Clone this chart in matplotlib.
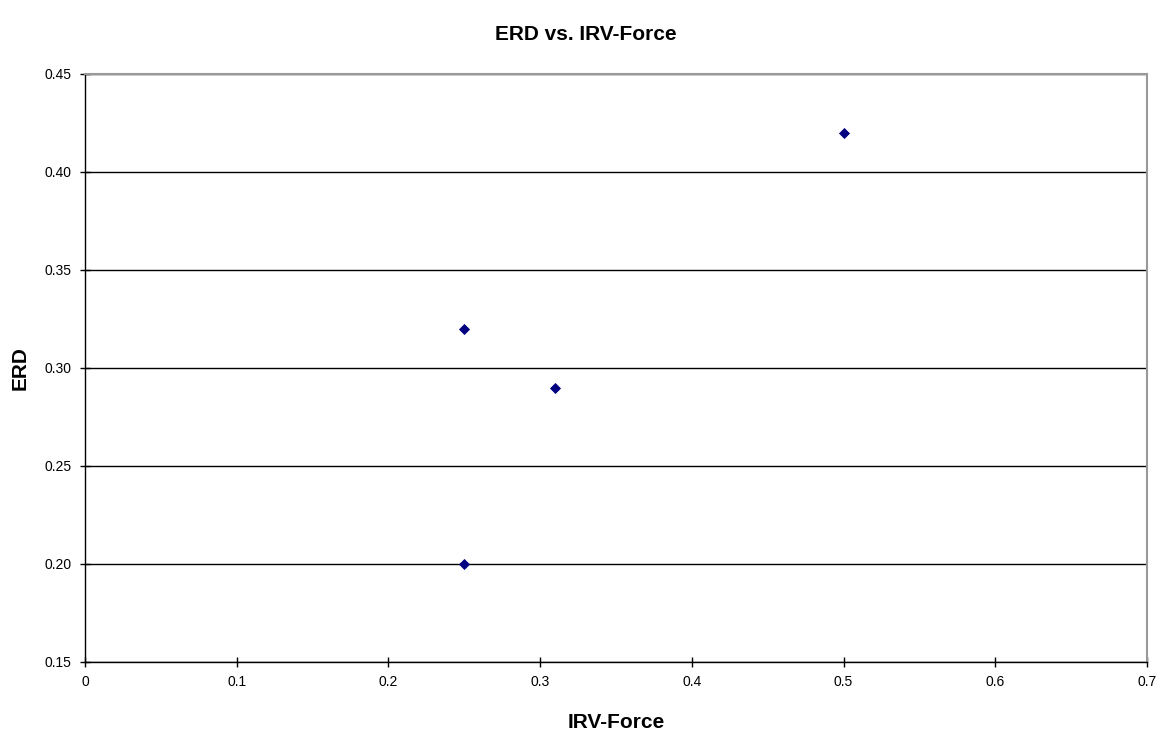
import matplotlib
matplotlib.use('Agg')
import matplotlib.pyplot as plt
from matplotlib.ticker import FormatStrFormatter, MultipleLocator

# Data
irv_force = [0.25, 0.31, 0.5, 0.25]
erd = [0.32, 0.29, 0.42, 0.20]

plt.rcParams['font.family'] = ['Liberation Sans', 'DejaVu Sans']

fig = plt.figure(figsize=(11.72, 7.4), dpi=100)
ax = fig.add_axes([85 / 1172, 1 - 662 / 740, (1147 - 85) / 1172, (662 - 74) / 740])

ax.scatter(irv_force, erd, marker='D', s=32, color='#000080', zorder=3, linewidths=0)

ax.set_xlim(0, 0.7)
ax.set_ylim(0.15, 0.45)
ax.yaxis.set_major_locator(MultipleLocator(0.05))
ax.yaxis.set_major_formatter(FormatStrFormatter('%.2f'))
ax.set_xticks([0, 0.1, 0.2, 0.3, 0.4, 0.5, 0.6, 0.7])
ax.set_xticklabels(['0', '0.1', '0.2', '0.3', '0.4', '0.5', '0.6', '0.7'])

ax.grid(axis='y', color='black', linewidth=1)
ax.set_axisbelow(True)

for side in ['top', 'right']:
    ax.spines[side].set_color('#999999')
    ax.spines[side].set_linewidth(1.5)
for side in ['left', 'bottom']:
    ax.spines[side].set_color('black')
    ax.spines[side].set_linewidth(1)

ax.tick_params(direction='inout', length=7, width=1, labelsize=10, pad=6)

ax.set_xlabel('IRV-Force', fontsize=15, fontweight='bold', labelpad=17)
ax.set_ylabel('ERD', fontsize=15, fontweight='bold', labelpad=11)
fig.text(0.5, 1 - 35 / 740, 'ERD vs. IRV-Force', ha='center', va='center',
         fontsize=15, fontweight='bold')

fig.savefig('out.png', dpi=100, facecolor='white')
